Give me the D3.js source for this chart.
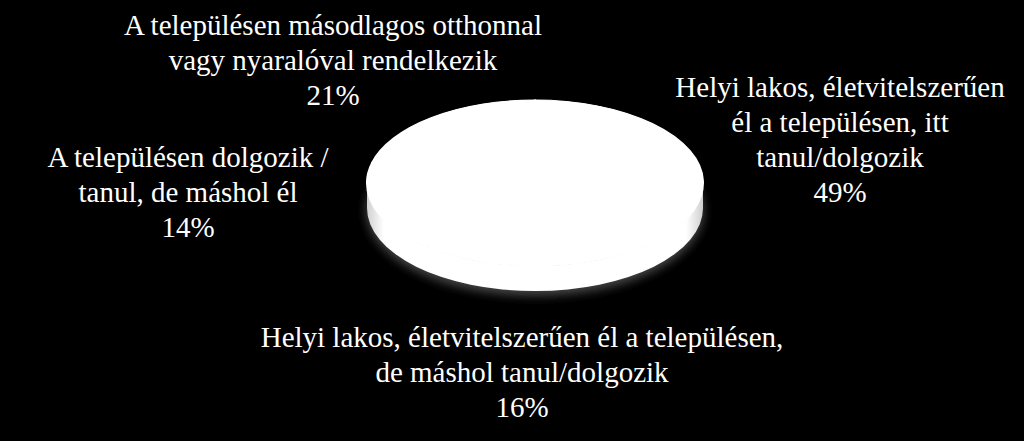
<!DOCTYPE html>
<html><head><meta charset="utf-8">
<script src="https://cdn.jsdelivr.net/npm/d3@7"></script>
</head>
<body style="margin:0;background:#000">
<svg id="c" width="1024" height="441" style="display:block;font-family:'Liberation Serif',serif"></svg>
<script>
const categories = [
  ["Helyi lakos, életvitelszerűen","él a településen, itt","tanul/dolgozik"],
  ["Helyi lakos, életvitelszerűen él a településen,","de máshol tanul/dolgozik"],
  ["A településen dolgozik /","tanul, de máshol él"],
  ["A településen másodlagos otthonnal","vagy nyaralóval rendelkezik"]
];
const values = [49, 16, 14, 21];
const percentLabels = ["49%", "16%", "14%", "21%"];

// layout
const W = 1024, H = 441;
const cx = 535, cy = 183, rx = 168, ry = 83, depth = 25;
const labelPos = [[840, 97], [522, 347], [188, 167], [333, 35]];
const lineH = 35;
const FONT = "Liberation Serif";

const svg = d3.select("#c");
svg.append("rect").attr("width", W).attr("height", H).attr("fill", "#000");

const defs = svg.append("defs");
const blur = defs.append("filter").attr("id","blur").attr("x","-20%").attr("y","-50%").attr("width","140%").attr("height","200%");
blur.append("feGaussianBlur").attr("stdDeviation", 5);
const sideGrad = defs.append("linearGradient").attr("id","side").attr("x1","0").attr("x2","1").attr("y1","0").attr("y2","0");
[[0,"#cfcfcf"],[0.05,"#ffffff"],[0.95,"#ffffff"],[1,"#cfcfcf"]].forEach(([o,c])=>sideGrad.append("stop").attr("offset",o).attr("stop-color",c));

// soft shadow under the pie
svg.append("ellipse").attr("cx", cx).attr("cy", cy + depth + 3).attr("rx", rx + 1).attr("ry", ry + 2)
  .attr("fill", "#444").attr("filter", "url(#blur)");

const pieData = d3.pie().sort(null).value(d => d)(values);
const k = ry / rx;
const arc = d3.arc().innerRadius(0).outerRadius(rx);

// side wall (front half)
const sp = `M${cx - rx},${cy} L${cx - rx},${cy + depth} A${rx},${ry} 0 0 0 ${cx + rx},${cy + depth} L${cx + rx},${cy} A${rx},${ry} 0 0 1 ${cx - rx},${cy} Z`;
svg.append("path").attr("d", sp).attr("fill", "url(#side)");

// top face
const topFace = svg.append("g").attr("transform", `translate(${cx},${cy}) scale(1,${k})`);
topFace.append("circle").attr("r", rx).attr("fill", "#fff");
topFace.selectAll("path.slice").data(pieData).join("path").attr("class", "slice")
  .attr("d", arc).attr("fill", "#fff").attr("stroke", "#fff").attr("stroke-width", 2);

// labels: one text element per line
const lbl = svg.append("g");
categories.forEach((lines, i) => {
  lines.concat([percentLabels[i]]).forEach((s, j) => {
    lbl.append("text").attr("text-anchor", "middle").attr("font-size", 29)
      .attr("font-family", FONT).style("font-family", FONT).attr("fill", "#fff")
      .attr("x", labelPos[i][0]).attr("y", labelPos[i][1] + j * lineH).text(s);
  });
});
</script>
</body></html>
